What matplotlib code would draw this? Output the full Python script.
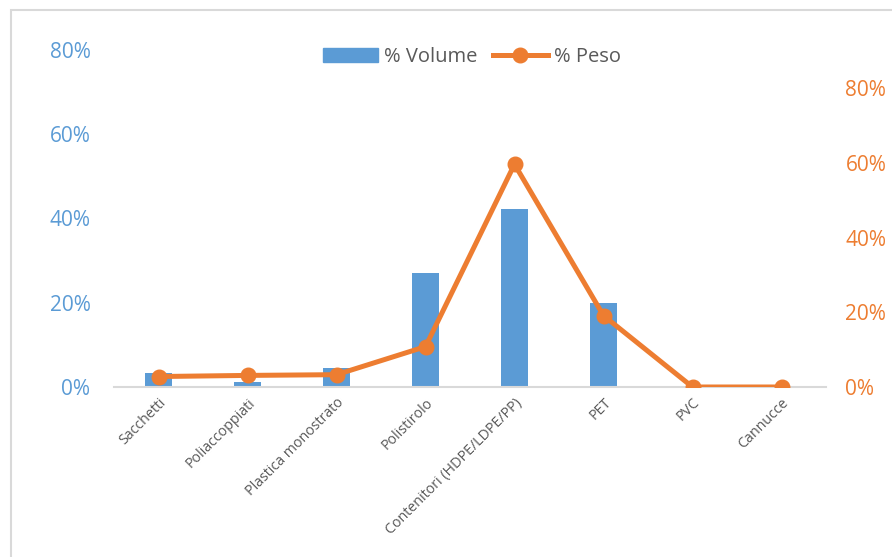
import matplotlib
matplotlib.use("Agg")
import matplotlib.pyplot as plt
import numpy as np
from matplotlib.patches import Rectangle
from matplotlib.lines import Line2D
from matplotlib.patches import Patch
from matplotlib.ticker import FuncFormatter

plt.rcParams['font.family'] = ['Open Sans', 'DejaVu Sans']

categories = ["Sacchetti", "Poliaccoppiati", "Plastica monostrato", "Polistirolo",
              "Contenitori (HDPE/LDPE/PP)", "PET", "PVC", "Cannucce"]
volume = [0.033, 0.013, 0.044, 0.271, 0.423, 0.199, 0.0, 0.0]
peso = [0.028, 0.031, 0.033, 0.108, 0.596, 0.191, 0.0, 0.0]
ticks = [0.0, 0.2, 0.4, 0.6, 0.8]

BLUE = "#5B9BD5"
ORANGE = "#ED7D31"
GRAY = "#595959"

fig = plt.figure(figsize=(8.92, 5.57), dpi=100)
W, H = 892, 557
ax = fig.add_axes([114 / W, 1 - 387 / H, 712 / W, 337 / H])
x = np.arange(len(categories))
ax.bar(x, volume, width=0.31, color=BLUE, zorder=2)
ax.set_xlim(-0.5, len(categories) - 0.5)
ax.set_ylim(0, 0.8)
ax.set_yticks(ticks)
pct = FuncFormatter(lambda v, p: f"{v*100:.0f}%")
ax.yaxis.set_major_formatter(pct)
ax.tick_params(axis='y', colors=BLUE, labelsize=15, length=0, pad=17)
ax.set_xticks(x)
ax.set_xticklabels(categories, rotation=45, ha='right', rotation_mode='anchor',
                   fontsize=10.3, color=GRAY)
ax.tick_params(axis='x', length=0, pad=6)
for s in ['top', 'right', 'left']:
    ax.spines[s].set_visible(False)
ax.spines['bottom'].set_color('#D9D9D9')
ax.spines['bottom'].set_linewidth(1.5)

ax2 = ax.twinx()
ax2.plot(x, peso, color=ORANGE, lw=3.6, marker='o', markersize=10.5, zorder=3)
ax2.set_ylim(0, 0.8 * 337 / 299)
ax2.set_yticks(ticks)
ax2.yaxis.set_major_formatter(pct)
ax2.tick_params(axis='y', colors=ORANGE, labelsize=15, length=0, pad=14)
for s in ['top', 'right', 'left', 'bottom']:
    ax2.spines[s].set_visible(False)

handles = [Patch(color=BLUE, label="% Volume"),
           Line2D([], [], color=ORANGE, lw=3.6, marker='o', markersize=10.5, label="% Peso")]
leg = fig.legend(handles=handles, loc='center', bbox_to_anchor=(472 / W, 1 - 57 / H),
                 ncol=2, frameon=False, fontsize=14.5, handlelength=2.7, handletextpad=0.3,
                 columnspacing=0.8, handleheight=0.7)
for t in leg.get_texts():
    t.set_color(GRAY)

fig.patches.append(Rectangle((11 / W, -0.1), 1.2, 1.1 - 10 / H, transform=fig.transFigure,
                             fill=False, edgecolor='#D9D9D9', lw=1.5))

fig.savefig("out.png", dpi=100)
